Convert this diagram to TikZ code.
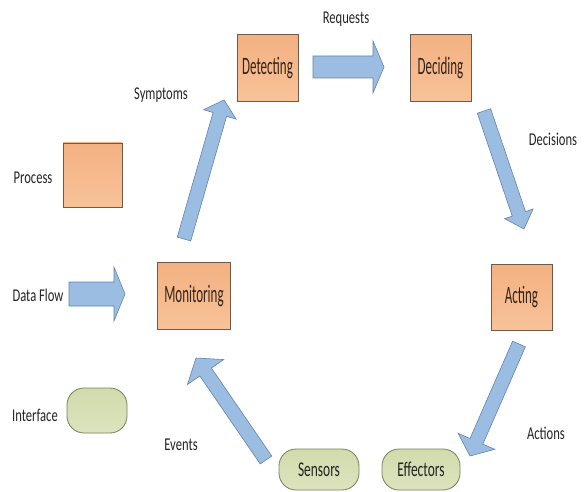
\documentclass[tikz,border=0pt]{standalone}
\usepackage{fontspec}
\setmainfont{Carlito}[FakeStretch=0.7]
\newfontfamily\stagefont{Carlito}[FakeStretch=0.52]
\newfontfamily\portfont{Carlito}[FakeStretch=0.64]
\usetikzlibrary{calc}

\definecolor{proctop}{RGB}{243,177,130}
\definecolor{procbot}{RGB}{248,194,152}
\definecolor{procedge}{RGB}{115,90,72}
\definecolor{porttop}{RGB}{210,219,172}
\definecolor{portbot}{RGB}{220,227,190}
\definecolor{portedge}{RGB}{118,128,92}
\definecolor{flowfill}{RGB}{155,189,226}
\definecolor{flowedge}{RGB}{100,130,170}
\definecolor{ink}{RGB}{36,36,36}
\definecolor{stageink}{RGB}{52,36,26}

\tikzset{
  every node/.style={text=ink, font=\fontsize{18}{21}\selectfont},
  process/.style={draw=procedge, line width=0.8pt, top color=proctop, bottom color=procbot,
    inner sep=0pt, text=stageink, font=\stagefont\fontsize{25}{28}\selectfont},
  port/.style={draw=portedge, line width=0.8pt, top color=porttop, bottom color=portbot,
    inner sep=0pt, rounded corners=17pt, font=\portfont\fontsize{21}{24}\selectfont},
  caption/.style={inner sep=0pt},
  flow shaft/.store in=\flowshaft,
  flow head/.store in=\flowhead,
  flow len/.store in=\flowlen,
  flow shaft=7, flow head=17, flow len=15,
  % filled block arrow drawn along the line from start to target
  flow/.style={draw=flowedge, fill=flowfill, line width=0.6pt, line join=miter,
    to path={
      let \p1=(\tikztostart), \p2=(\tikztotarget),
          \n1={atan2(\y2-\y1,\x2-\x1)}, \n2={veclen(\x2-\x1,\y2-\y1)-\flowlen} in
      ([shift={(\p1)},rotate=\n1] 0pt, \flowshaft pt)
      -- ([shift={(\p1)},rotate=\n1] \n2, \flowshaft pt)
      -- ([shift={(\p1)},rotate=\n1] \n2, \flowhead pt)
      -- (\tikztotarget)
      -- ([shift={(\p1)},rotate=\n1] \n2, -\flowhead pt)
      -- ([shift={(\p1)},rotate=\n1] \n2, -\flowshaft pt)
      -- ([shift={(\p1)},rotate=\n1] 0pt, -\flowshaft pt)
      -- cycle}},
}

\begin{document}
\begin{tikzpicture}[x=1pt, y=-1pt]
\useasboundingbox (0,0) rectangle (587,492);

% control loop stages
\node[process, minimum width=61pt, minimum height=67pt] (detecting) at (267.5,68) {Detecting};
\node[process, minimum width=61pt, minimum height=67pt] (deciding) at (440.5,68) {Deciding};
\node[process, minimum width=61pt, minimum height=66pt] (acting) at (521.5,297) {Acting};
\node[process, minimum width=73pt, minimum height=67pt] (monitoring) at (194,296) {Monitoring};

% interfaces to the managed resource
\node[port, minimum width=80pt, minimum height=41pt] (sensors) at (319,469.5) {Sensors};
\node[port, minimum width=78pt, minimum height=41pt] (effectors) at (421,469.5) {Effectors};

% legend
\node[caption] (process-label) at (33,178) {Process};
\node[process, minimum width=59pt, minimum height=64pt] (process) at (92.5,175) {};
\node[caption] (dataflow-label) at (38,295) {Data Flow};
\node[caption] (interface-label) at (35,415) {Interface};
\node[port, minimum width=60pt, minimum height=45pt] (interface) at (97,410.5) {};

% arrow end points
\coordinate (legend-a) at (69,294);
\coordinate (legend-b) at (125,294);
\coordinate (req-a) at (313,67);
\coordinate (req-b) at (384,67);
\coordinate (sym-a) at (184,239);
\coordinate (sym-b) at (224,100);
\coordinate (dec-a) at (484,111);
\coordinate (dec-b) at (524,229);
\coordinate (act-a) at (519,344);
\coordinate (act-b) at (470,456);
\coordinate (evt-a) at (266,460);
\coordinate (evt-b) at (196,358);

% data flows
\draw[flow, flow shaft=12, flow head=27, flow len=11] (legend-a) to (legend-b);
\draw[flow, flow shaft=11, flow head=26, flow len=11] (req-a) to (req-b);
\draw[flow, flow shaft=7, flow head=17, flow len=15] (sym-a) to (sym-b);
\draw[flow, flow shaft=7, flow head=15, flow len=16] (dec-a) to (dec-b);
\draw[flow, flow shaft=7, flow head=20, flow len=16] (act-a) to (act-b);
\draw[flow, flow shaft=7, flow head=22, flow len=17] (evt-a) to (evt-b);

% flow labels
\node[caption] (requests) at (346,19) {Requests};
\node[caption] (symptoms) at (161,95) {Symptoms};
\node[caption] (decisions) at (553,139) {Decisions};
\node[caption] (actions) at (546,433) {Actions};
\node[caption] (events) at (181,445) {Events};
\end{tikzpicture}
\end{document}
